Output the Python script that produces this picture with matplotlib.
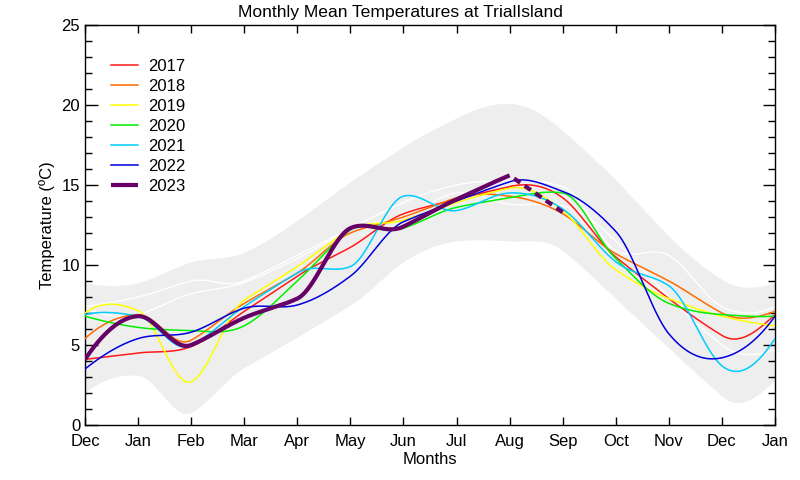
import numpy as np
import matplotlib
matplotlib.use("Agg")
import matplotlib.pyplot as plt
from matplotlib.ticker import MultipleLocator

plt.rcParams['font.family'] = ['Liberation Sans', 'DejaVu Sans']

# ---- data ----
months = ["Dec", "Jan", "Feb", "Mar", "Apr", "May", "Jun", "Jul",
          "Aug", "Sep", "Oct", "Nov", "Dec", "Jan"]

t2017 = [4.1, 4.5, 4.9, 7.1, 9.3, 11.1, 13.2, 14.1, 14.9, 14.2, 10.5, 7.9, 5.6, 6.9]
t2018 = [5.4, 6.9, 5.3, 7.6, 9.5, 12.0, 13.0, 14.2, 14.3, 13.2, 10.7, 9.0, 7.0, 7.1]
t2019 = [7.0, 7.15, 2.7, 7.8, 9.9, 12.2, 12.8, 13.9, 14.8, 13.4, 9.7, 7.9, 6.8, 6.2]
t2020 = [6.8, 6.1, 5.9, 6.2, 9.0, 12.2, 12.3, 13.6, 14.2, 14.5, 10.4, 7.6, 6.9, 6.8]
t2021 = [6.9, 6.8, 4.95, 7.4, 9.5, 9.9, 14.3, 13.4, 14.5, 13.5, 10.2, 8.7, 3.7, 5.4]
t2022 = [3.5, 5.4, 5.8, 7.3, 7.5, 9.3, 12.7, 14.0, 15.2, 14.6, 12.1, 5.7, 4.2, 6.8]
t2023 = [4.1, 6.8, 5.0, 6.7, 7.9, 12.3, 12.4, 14.1, 15.6]
t2023_fc = [15.6, 13.3]   # dashed continuation Aug -> Sep

band_hi = [8.9, 8.9, 10.2, 10.8, 12.8, 15.2, 17.4, 19.2, 20.1, 18.4, 15.3, 11.8, 9.1, 8.9]
band_lo = [2.0, 3.1, 0.8, 3.6, 5.5, 7.5, 10.2, 11.5, 11.5, 10.9, 7.9, 4.8, 1.8, 2.8]

white1 = [7.4, 8.0, 9.0, 9.0, 10.6, 12.3, 13.9, 15.0, 15.3, 14.9, 10.9, 10.6, 7.4, 7.4]
white2 = [7.3, 6.9, 8.2, 8.9, 10.4, 12.2, 13.0, 14.5, 13.8, 13.7, 11.5, 8.0, 5.0, 4.7]

years = ["2017", "2018", "2019", "2020", "2021", "2022"]
series = [t2017, t2018, t2019, t2020, t2021, t2022]
colors = ["#ff1a1a", "#ff6a00", "#ffff00", "#00ee00", "#00ccff", "#0000dd"]
col2023 = "#660066"


def akima(y, xs):
    y = np.asarray(y, float)
    n = len(y)
    m = np.diff(y)
    mm = np.empty(n + 3)
    mm[2:n + 1] = m
    mm[1] = 2 * mm[2] - mm[3]
    mm[0] = 2 * mm[1] - mm[2]
    mm[n + 1] = 2 * mm[n] - mm[n - 1]
    mm[n + 2] = 2 * mm[n + 1] - mm[n]
    t = np.empty(n)
    for i in range(n):
        m1, m2, m3, m4 = mm[i], mm[i + 1], mm[i + 2], mm[i + 3]
        w1, w2 = abs(m4 - m3), abs(m2 - m1)
        t[i] = (m2 + m3) / 2 if w1 + w2 < 1e-12 else (w1 * m2 + w2 * m3) / (w1 + w2)
    idx = np.clip(np.floor(xs).astype(int), 0, n - 2)
    s = xs - idx
    h00 = 2 * s ** 3 - 3 * s ** 2 + 1
    h10 = s ** 3 - 2 * s ** 2 + s
    h01 = -2 * s ** 3 + 3 * s ** 2
    h11 = s ** 3 - s ** 2
    return h00 * y[idx] + h10 * t[idx] + h01 * y[idx + 1] + h11 * t[idx + 1]


fig = plt.figure(figsize=(8, 4.8), dpi=100)
ax = fig.add_axes([0.10625, 0.1146, 0.8625, 0.8334])

xs = np.linspace(0, 13, 1000)
ax.fill_between(xs, akima(band_lo, xs), akima(band_hi, xs), color="#eeeeee", lw=0, zorder=1)
ax.plot(xs, akima(white1, xs), color="white", lw=1.0, zorder=2)
ax.plot(xs, akima(white2, xs), color="white", lw=1.0, zorder=2)

for yr, s, c in zip(years, series, colors):
    ax.plot(xs, akima(s, xs), color=c, lw=1.1, label=yr, zorder=3)

n23 = len(t2023)
xa = np.linspace(0, n23 - 1, 600)
ax.plot(xa, akima(t2023, xa), color=col2023, lw=3.0, label="2023", zorder=4,
        solid_capstyle='butt')
xf = np.arange(n23 - 1, n23 - 1 + len(t2023_fc))
ax.plot(xf, t2023_fc, color=col2023, lw=3.0, zorder=4,
        linestyle=(1.8, (1.8, 1.3)), dash_capstyle='butt')

ax.set_xlim(0, 13)
ax.set_ylim(0, 25)
ax.set_xticks(np.arange(len(months)))
ax.set_xticklabels(months)
ax.yaxis.set_major_locator(MultipleLocator(5))
ax.yaxis.set_minor_locator(MultipleLocator(1))
ax.tick_params(axis='x', direction='in', top=True, length=6, width=1,
               labelsize=12, pad=6.5)
ax.tick_params(axis='y', which='major', direction='in', right=True, length=9,
               width=1, labelsize=12, pad=3.5)
ax.tick_params(axis='y', which='minor', direction='in', right=True, length=5,
               width=1)
for sp in ax.spines.values():
    sp.set_linewidth(1.0)

ax.set_xlabel("Months", fontsize=12, labelpad=2)
ax.set_ylabel("Temperature (ºC)", fontsize=12, labelpad=5)
fig.text(0.5, 0.974, "Monthly Mean Temperatures at TrialIsland", fontsize=12.6,
         ha='center', va='center')

ax.legend(loc='upper left', bbox_to_anchor=(0.0377, 0.915), frameon=False,
          fontsize=12, handlelength=1.62, handletextpad=0.6, labelspacing=0.30,
          borderpad=0, borderaxespad=0)

fig.savefig("out.png", dpi=100)
